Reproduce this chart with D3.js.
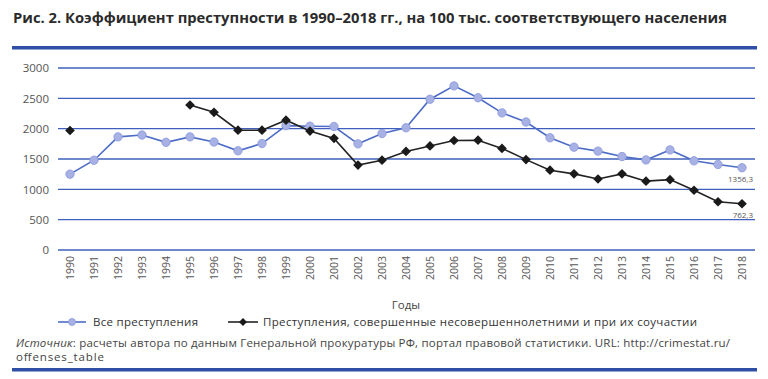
<!DOCTYPE html>
<html>
<head>
<meta charset="utf-8">
<script src="https://cdn.jsdelivr.net/npm/d3@7"></script>
<style>
  html, body { margin: 0; padding: 0; background: #fff; }
  text { font-family: "Open Sans", "DejaVu Sans", sans-serif; }
</style>
</head>
<body>
<script>
// --- data ---
const years = d3.range(1990, 2019);
const allCrimes = [1250, 1480, 1865, 1895, 1775, 1865, 1780, 1635, 1755, 2050,
  2040, 2035, 1750, 1920, 2015, 2485, 2705, 2510, 2260, 2110,
  1850, 1695, 1630, 1540, 1485, 1650, 1470, 1410, 1356.3];
const juvenileCrimes = [1970, null, null, null, null, 2390, 2270, 1975, 1975, 2140,
  1960, 1840, 1400, 1480, 1625, 1715, 1805, 1810, 1675, 1490,
  1315, 1255, 1170, 1255, 1135, 1160, 985, 795, 762.3];
const yTicks = [0, 500, 1000, 1500, 2000, 2500, 3000];

const W = 768, H = 379;
const plotL = 58, plotR = 755, plotT = 68, plotB = 250;

const svg = d3.select("body").append("svg")
  .attr("width", W).attr("height", H);

// title
svg.append("text")
  .attr("x", 13).attr("y", 23)
  .attr("font-family", "'Liberation Sans Narrow', 'Roboto', sans-serif")
  .attr("font-weight", "bold")
  .attr("font-size", 14)
  .attr("fill", "#2b2b2b")
  .attr("textLength", 714)
  .attr("lengthAdjust", "spacingAndGlyphs")
  .text("Рис. 2. Коэффициент преступности в 1990–2018 гг., на 100 тыс. соответствующего населения");

// rules
const ruleColor = "#2f4fa6";
svg.append("rect").attr("x", 12).attr("y", 46).attr("width", 745).attr("height", 3.5).attr("fill", ruleColor);
svg.append("rect").attr("x", 12).attr("y", 368).attr("width", 745).attr("height", 3.5).attr("fill", ruleColor);

// scales
const x = d3.scalePoint().domain(years).range([70, 742]);
const y = d3.scaleLinear().domain([0, 3000]).range([plotB, plotT]);

// grid + y labels
const grid = svg.append("g");
grid.selectAll("line").data(yTicks).join("line")
  .attr("x1", plotL).attr("x2", plotR)
  .attr("y1", d => y(d)).attr("y2", d => y(d))
  .attr("stroke", "#3e5fbd").attr("stroke-width", 1.3);

const yAxis = d3.axisLeft(y).tickValues(yTicks).tickFormat(d3.format("d"))
  .tickSize(0).tickPadding(0);
svg.append("g").attr("transform", `translate(${plotL - 9},0)`)
  .call(yAxis)
  .call(g => g.select(".domain").remove())
  .call(g => g.selectAll("text")
    .attr("font-family", "'Open Sans', sans-serif")
    .attr("font-size", 11.5).attr("fill", "#555"));

// x labels (rotated)
const xAxis = d3.axisBottom(x).tickSize(0).tickPadding(0);
svg.append("g").attr("transform", `translate(0,${plotB + 6})`)
  .call(xAxis)
  .call(g => g.select(".domain").remove())
  .call(g => g.selectAll("text")
    .attr("font-family", "'Open Sans', sans-serif")
    .attr("font-size", 10.5).attr("fill", "#555")
    .attr("transform", "rotate(-90)")
    .attr("text-anchor", "end")
    .attr("dy", "0.35em")
    .attr("x", 0).attr("y", 0));

svg.append("text")
  .attr("x", 406).attr("y", 309)
  .attr("text-anchor", "middle")
  .attr("font-size", 11.5).attr("fill", "#444")
  .text("Годы");

// series
const blueLine = "#4d6cc6", blueFill = "#a8b1e4", blueStroke = "#8a98dc";
const line = d3.line()
  .defined(d => d.v != null)
  .x(d => x(d.year)).y(d => y(d.v));

const allData = years.map((yr, i) => ({ year: yr, v: allCrimes[i] }));
const juvData = years.map((yr, i) => ({ year: yr, v: juvenileCrimes[i] }));

svg.append("path").datum(allData)
  .attr("d", line).attr("fill", "none")
  .attr("stroke", blueLine).attr("stroke-width", 1.6);

svg.append("path").datum(juvData)
  .attr("d", line).attr("fill", "none")
  .attr("stroke", "#222").attr("stroke-width", 1.6);

svg.append("g").selectAll("circle").data(allData).join("circle")
  .attr("cx", d => x(d.year)).attr("cy", d => y(d.v))
  .attr("r", 4.2)
  .attr("fill", blueFill).attr("stroke", blueStroke).attr("stroke-width", 0.8);

const diamond = d3.symbol().type(d3.symbolDiamond2).size(60);
svg.append("g").selectAll("path").data(juvData.filter(d => d.v != null)).join("path")
  .attr("d", diamond)
  .attr("transform", d => `translate(${x(d.year)},${y(d.v)})`)
  .attr("fill", "#1a1a1a");

// end labels
const fmt = v => String(v).replace(".", ",");
const last = years.length - 1;
[[allCrimes[last], 14], [juvenileCrimes[last], 14]].forEach(([v, dy]) => {
  svg.append("text")
    .attr("x", 753).attr("y", y(v) + dy)
    .attr("text-anchor", "end")
    .attr("font-size", 8).attr("fill", "#555")
    .text(fmt(v));
});

// legend
const lg = svg.append("g");
lg.append("line").attr("x1", 58).attr("x2", 86).attr("y1", 322).attr("y2", 322)
  .attr("stroke", blueLine).attr("stroke-width", 1.6);
lg.append("circle").attr("cx", 72).attr("cy", 322).attr("r", 3.5)
  .attr("fill", blueFill).attr("stroke", blueStroke).attr("stroke-width", 0.8);
lg.append("text").attr("x", 93).attr("y", 326)
  .attr("font-size", 11.5).attr("fill", "#333")
  .attr("textLength", 105)
  .text("Все преступления");

lg.append("line").attr("x1", 228).attr("x2", 258).attr("y1", 322).attr("y2", 322)
  .attr("stroke", "#222").attr("stroke-width", 1.6);
lg.append("path").attr("d", d3.symbol().type(d3.symbolDiamond2).size(40))
  .attr("transform", "translate(243,322)").attr("fill", "#1a1a1a");
lg.append("text").attr("x", 263).attr("y", 326)
  .attr("font-size", 11.5).attr("fill", "#333")
  .attr("textLength", 434)
  .text("Преступления, совершенные несовершеннолетними и при их соучастии");

// source
const src = svg.append("text").attr("x", 16).attr("y", 347)
  .attr("font-size", 11.5).attr("fill", "#444")
  .attr("textLength", 714);
src.append("tspan").attr("font-style", "italic").text("Источник");
src.append("tspan").text(": расчеты автора по данным Генеральной прокуратуры РФ, портал правовой статистики. URL: http://crimestat.ru/");
svg.append("text").attr("x", 16).attr("y", 361)
  .attr("font-size", 11.5).attr("fill", "#444")
  .attr("textLength", 88)
  .text("offenses_table");
</script>
</body>
</html>
